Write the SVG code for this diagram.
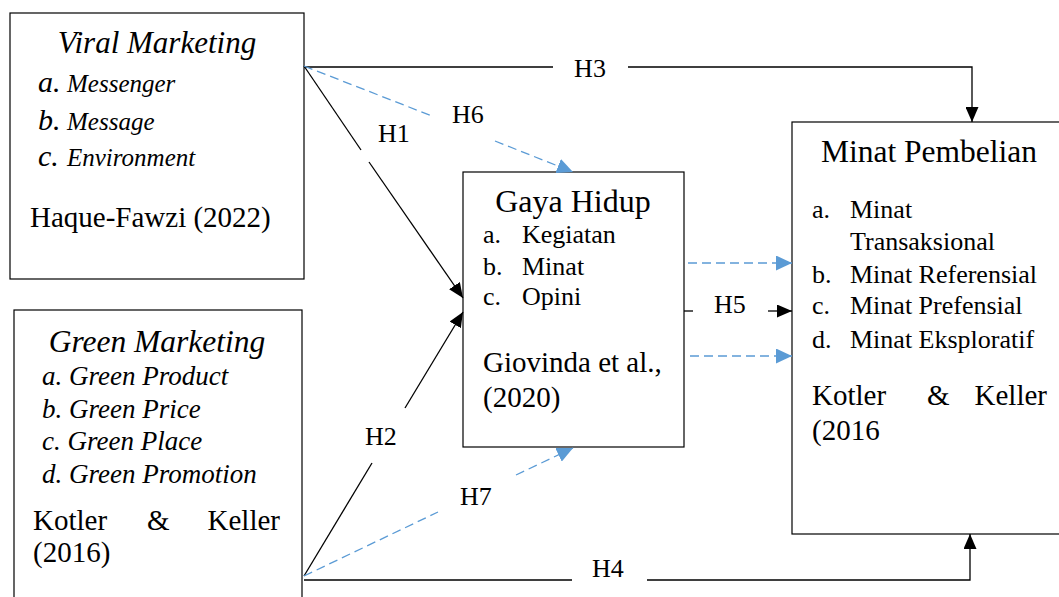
<svg xmlns="http://www.w3.org/2000/svg" width="1059" height="597" viewBox="0 0 1059 597">
<style>
.box{fill:#fff;stroke:#000;stroke-width:1.2}
.t{font-family:"Liberation Serif","Times New Roman",serif;fill:#000}
.ln{fill:none;stroke:#000;stroke-width:1.3}
.bl{fill:none;stroke:#5B9BD5;stroke-width:1.3;stroke-dasharray:9 5}
.h{font-size:26px}
</style>
<defs>
<marker id="ab" markerUnits="userSpaceOnUse" markerWidth="15" markerHeight="13" refX="15" refY="6.5" orient="auto"><path d="M0,0 L15,6.5 L0,13 z" fill="#000"/></marker>
<marker id="au" markerUnits="userSpaceOnUse" markerWidth="16" markerHeight="15" refX="16" refY="7.5" orient="auto"><path d="M0,0 L16,7.5 L0,15 z" fill="#5B9BD5"/></marker>
</defs>
<g id="viral">
<rect class="box" x="10" y="13" width="294" height="266"/>
<text class="t" x="157" y="53" font-size="31" font-style="italic" text-anchor="middle">Viral Marketing</text>
<text class="t" x="38" y="92" font-size="30" font-style="italic">a.</text><text class="t" x="67" y="92" font-size="25" font-style="italic">Messenger</text>
<text class="t" x="38" y="130" font-size="30" font-style="italic">b.</text><text class="t" x="67" y="130" font-size="25" font-style="italic">Message</text>
<text class="t" x="38" y="166" font-size="30" font-style="italic">c.</text><text class="t" x="67" y="166" font-size="25" font-style="italic">Environment</text>
<text class="t" x="30" y="227" font-size="29">Haque-Fawzi (2022)</text>
</g>
<g id="green">
<rect class="box" x="14" y="310" width="288" height="300"/>
<text class="t" x="157" y="352" font-size="31.5" font-style="italic" text-anchor="middle">Green Marketing</text>
<text class="t" x="42" y="385" font-size="27" font-style="italic">a. Green Product</text>
<text class="t" x="42" y="418" font-size="27" font-style="italic">b. Green Price</text>
<text class="t" x="42" y="450" font-size="27" font-style="italic">c. Green Place</text>
<text class="t" x="42" y="483" font-size="27" font-style="italic">d. Green Promotion</text>
<text class="t" x="33" y="530" font-size="29">Kotler</text>
<text class="t" x="147" y="530" font-size="29">&amp;</text>
<text class="t" x="280" y="530" font-size="29" text-anchor="end">Keller</text>
<text class="t" x="33" y="562" font-size="29">(2016)</text>
</g>
<g id="gaya">
<rect class="box" x="463" y="172" width="221" height="275"/>
<text class="t" x="573" y="212" font-size="32" text-anchor="middle">Gaya Hidup</text>
<text class="t" x="483" y="243" font-size="26">a.</text><text class="t" x="522" y="243" font-size="26">Kegiatan</text>
<text class="t" x="483" y="275" font-size="26">b.</text><text class="t" x="522" y="275" font-size="26">Minat</text>
<text class="t" x="483" y="305" font-size="26">c.</text><text class="t" x="522" y="305" font-size="26">Opini</text>
<text class="t" x="483" y="372" font-size="29">Giovinda et al.,</text>
<text class="t" x="483" y="407" font-size="29">(2020)</text>
</g>
<g id="minat">
<rect class="box" x="792" y="122" width="280" height="412"/>
<text class="t" x="929" y="162" font-size="31.5" text-anchor="middle">Minat Pembelian</text>
<text class="t" x="812" y="218" font-size="26">a.</text><text class="t" x="850" y="218" font-size="26">Minat</text>
<text class="t" x="850" y="250" font-size="26">Transaksional</text>
<text class="t" x="812" y="283" font-size="26">b.</text><text class="t" x="850" y="283" font-size="26">Minat Referensial</text>
<text class="t" x="812" y="314" font-size="26">c.</text><text class="t" x="850" y="314" font-size="26">Minat Prefensial</text>
<text class="t" x="812" y="348" font-size="26">d.</text><text class="t" x="850" y="348" font-size="26">Minat Eksploratif</text>
<text class="t" x="812" y="405" font-size="29">Kotler</text>
<text class="t" x="927" y="405" font-size="29">&amp;</text>
<text class="t" x="1047" y="405" font-size="29" text-anchor="end">Keller</text>
<text class="t" x="812" y="440" font-size="29">(2016</text>
</g>
<g id="connectors">
<path class="ln" d="M304,67 L553,67 M628,67 L972,67 L972,122" marker-end="url(#ab)"/>
<path class="ln" d="M304,580 L572,580 M647,580 L970,580 L970,534" marker-end="url(#ab)"/>
<path class="ln" d="M304,66 L361,150"/>
<path class="ln" d="M369,162 L463,298" marker-end="url(#ab)"/>
<path class="ln" d="M304,576 L372,463"/>
<path class="ln" d="M405,408 L463,312" marker-end="url(#ab)"/>
<path class="bl" d="M304,66 L432,116"/>
<path class="bl" d="M495,141 L573,172" marker-end="url(#au)"/>
<path class="bl" d="M304,576 L438,512"/>
<path class="bl" d="M516,475 L573,448" marker-end="url(#au)"/>
<path class="bl" d="M688,263 L792,263" marker-end="url(#au)"/>
<path class="bl" d="M690,356 L792,356" marker-end="url(#au)"/>
<path class="ln" d="M684,311 L693,311"/>
<path class="ln" d="M768,311 L792,311" marker-end="url(#ab)"/>
<text class="t h" x="590" y="77" text-anchor="middle">H3</text>
<text class="t h" x="452" y="123">H6</text>
<text class="t h" x="378" y="142">H1</text>
<text class="t h" x="714" y="313">H5</text>
<text class="t h" x="365" y="445">H2</text>
<text class="t h" x="460" y="505">H7</text>
<text class="t h" x="592" y="577">H4</text>
</g>
</svg>
